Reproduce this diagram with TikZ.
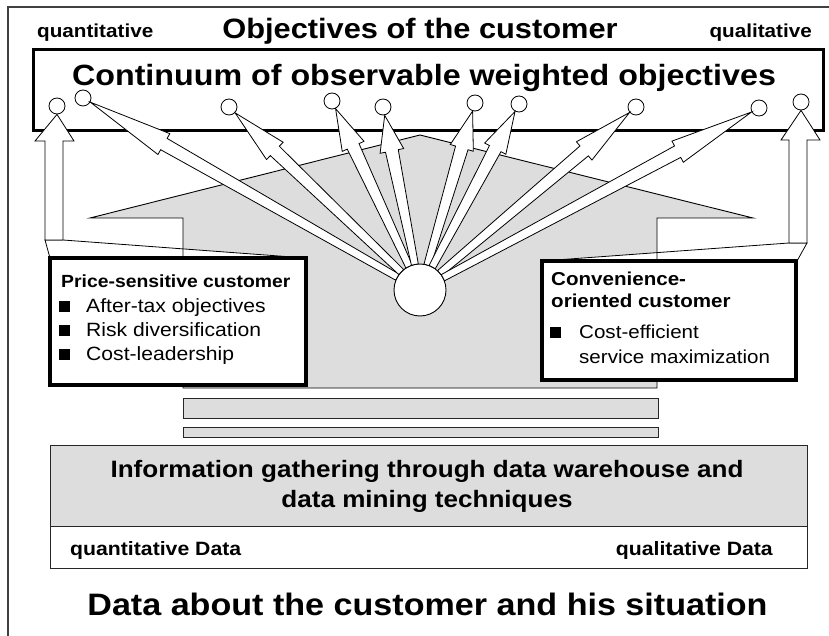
\documentclass[tikz,border=0pt]{standalone}
\usepackage{fontspec}
\setmainfont{Liberation Sans}[FakeStretch=1.1]
\usetikzlibrary{calc}
\definecolor{panel}{RGB}{221,221,221}
\newcommand\fsz[1]{\fontsize{#1}{#1}\selectfont}
% tapered arrow from the hub to one objective circle
\newcommand\fanarrow[1]{%
  \path ($(hub.center)!26pt!(#1.center)$) coordinate (fs)
        ($(hub.center)!0.76!(#1.center)$) coordinate (fb)
        ($(#1.center)!8.5pt!(hub.center)$) coordinate (ft);
  \filldraw[arrowline]
    ($(fs)!3.5pt!90:(ft)$) -- ($(fb)!6.5pt!90:(ft)$) -- ($(fb)!12pt!90:(ft)$) -- (ft)
    -- ($(fb)!12pt!-90:(ft)$) -- ($(fb)!6.5pt!-90:(ft)$) -- ($(fs)!3.5pt!-90:(ft)$) -- cycle;}
\begin{document}
\begin{tikzpicture}[x=1pt,y=-1pt,
  frameline/.style={draw=black!75,line width=1.3pt},
  bigbox/.style={draw,fill=white,line width=3pt,inner sep=0pt},
  custbox/.style={draw,fill=white,line width=4pt,inner sep=0pt},
  thinline/.style={draw=black,line width=0.9pt},
  arrowline/.style={draw=black,fill=white,line width=0.8pt,line join=miter},
  panelbar/.style={draw=black!85,fill=panel,line width=1pt,inner sep=0pt},
  databar/.style={draw=black!85,fill=white,line width=1pt,inner sep=0pt},
  goal/.style={circle,draw,fill=white,line width=0.8pt,minimum size=16pt,inner sep=0pt},
  hubnode/.style={circle,draw,fill=white,line width=0.9pt,minimum size=52pt,inner sep=0pt},
  lbl/.style={inner sep=0pt},
  bul/.style={fill=black,minimum size=11pt,inner sep=0pt}]
\useasboundingbox (0,0) rectangle (829,636);

% outer frame (top and left edges)
\draw[frameline] (8,637) -- (8,7) -- (830,7);

% box of weighted objectives
\node[bigbox,minimum width=790pt,minimum height=81pt] (objbox) at (428,90.5) {};

% grey house body
\fill[panel] (90,218) -- (420,135) -- (753,218) -- (657,218) -- (657,388) -- (183,388) -- (183,218) -- cycle;

% objective circles
\foreach \n/\x/\y in {1/57/106, 2/83/98, 3/229/107, 4/332/101, 5/383/107,
                      6/475/103, 7/519/104, 8/636/107, 9/759/108, 10/801/102}
  \node[goal] (o\n) at (\x,\y) {};

% left callout with vertical arrow
\coordinate (lsl) at (45,240);
\coordinate (lsr) at (63,240);
\filldraw[arrowline] (lsl) -- (lsr) -- (306,258) -- (50,258) -- cycle;
\filldraw[arrowline] (lsl) -- (45,141) -- (35,141) -- (o1.south) -- (74,141) -- (63,141) -- (lsr) -- cycle;

% right callout with vertical arrow
\coordinate (rsl) at (789,243);
\coordinate (rsr) at (807,243);
\filldraw[arrowline] (rsl) -- (rsr) -- (797,261) -- (542,261) -- cycle;
\filldraw[arrowline] (rsl) -- (789,140) -- (781,140) -- (o10.south) -- (820,140) -- (807,140) -- (rsr) -- cycle;

% house outline
\draw[thinline] (90,218) -- (420,135) -- (753,218) -- (657,218) -- (657,388) -- (183,388) -- (183,218) -- cycle;

% hub and fan of arrows
\node[hubnode] (hub) at (420,290) {};
\foreach \n in {2,...,9} {\fanarrow{o\n}}

% customer type boxes
\node[custbox,minimum width=256pt,minimum height=127pt] (pbox) at (178,321.5) {};
\node[custbox,minimum width=254pt,minimum height=119pt] (cbox) at (669,320.5) {};

% stacked bars and data box
\node[panelbar,minimum width=475pt,minimum height=20pt] (bar1) at (420.5,408) {};
\node[panelbar,minimum width=475pt,minimum height=10pt] (bar2) at (420.5,432) {};
\node[panelbar,minimum width=757pt,minimum height=81pt] (info) at (428.5,485.5) {};
\node[databar,minimum width=757pt,minimum height=42pt] (data) at (428.5,547) {};

% headings
\node[lbl,anchor=base west,font=\fsz{18.8}\bfseries] (qnt) at (37,38) {quantitative};
\node[lbl,anchor=base east,font=\fsz{18.8}\bfseries] (qlt) at (812,38) {qualitative};
\node[lbl,anchor=base,font=\fsz{28}\bfseries] (ttl) at (420,39) {Objectives of the customer};
\node[lbl,anchor=base,font=\fsz{29.3}\bfseries] (cont) at (424,86) {Continuum of observable weighted objectives};

% price-sensitive customer
\node[lbl,anchor=base west,font=\fsz{17.6}\bfseries] (pt) at (61,287) {Price-sensitive customer};
\foreach \i/\y/\t in {1/312/After-tax objectives, 2/336/Risk diversification, 3/360/Cost-leadership}{
  \node[bul,anchor=south west] (pb\i) at (59,\y) {};
  \node[lbl,anchor=base west,font=\fsz{19.2}] (pl\i) at (86,\y) {\t};
}

% convenience-oriented customer
\node[lbl,anchor=base west,font=\fsz{18.7}\bfseries] (ct1) at (551,285) {Convenience-};
\node[lbl,anchor=base west,font=\fsz{18.7}\bfseries] (ct2) at (551,307) {oriented customer};
\node[bul,anchor=south west] (cb1) at (550,338) {};
\node[lbl,anchor=base west,font=\fsz{18.7}] (cl1) at (579,338) {Cost-efficient};
\node[lbl,anchor=base west,font=\fsz{18.7}] (cl2) at (579,363) {service maximization};

% data gathering
\node[lbl,anchor=base,font=\fsz{23.7}\bfseries] (inf1) at (427,477) {Information gathering through data warehouse and};
\node[lbl,anchor=base,font=\fsz{23.7}\bfseries] (inf2) at (427,507) {data mining techniques};
\node[lbl,anchor=base west,font=\fsz{19.3}\bfseries] (qd) at (70,555) {quantitative Data};
\node[lbl,anchor=base east,font=\fsz{19.3}\bfseries] (ld) at (773,555) {qualitative Data};
\node[lbl,anchor=base,font=\fsz{31}\bfseries] (bot) at (427.5,615) {Data about the customer and his situation};
\end{tikzpicture}
\end{document}
